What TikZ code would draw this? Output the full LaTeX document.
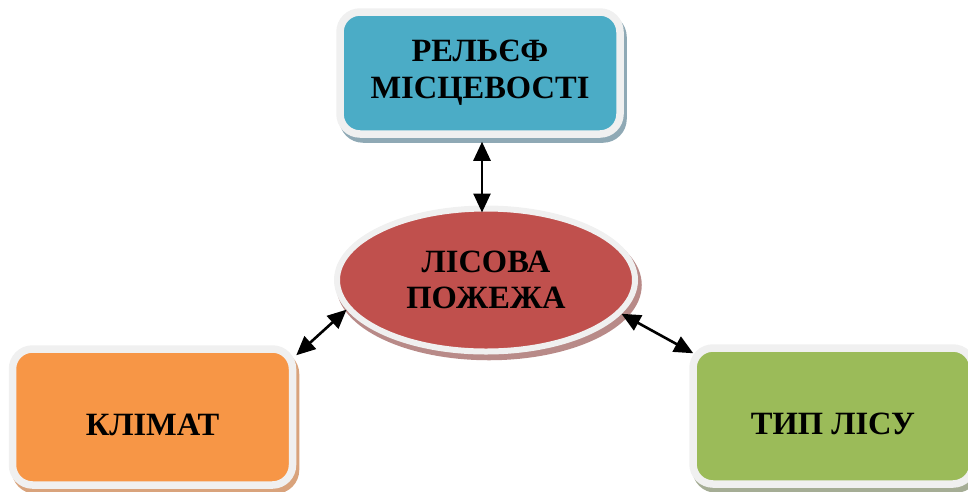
\documentclass[tikz,border=0pt]{standalone}
\usepackage{fontspec}
\setmainfont{Liberation Serif}
\usetikzlibrary{shapes.geometric,arrows.meta,calc}
\definecolor{aquafill}{HTML}{4BACC6}
\definecolor{redfill}{HTML}{C0504D}
\definecolor{orangefill}{HTML}{F79646}
\definecolor{greenfill}{HTML}{9BBB59}
\definecolor{rimgray}{HTML}{F0F0F0}
\definecolor{shblue}{HTML}{8FA9B5}
\definecolor{shred}{HTML}{B88A88}
\definecolor{shorange}{HTML}{D9A37C}
\definecolor{shgreen}{HTML}{A5AD95}
\begin{document}
\begin{tikzpicture}[x=1pt,y=-1pt,
  shad/.style={preaction={draw=#1, fill=#1, line width=7.5pt, transform canvas={shift={(3pt,-5pt)}}}},
  box/.style={rectangle, rounded corners=20pt, draw=rimgray, line width=7.5pt,
    minimum width=280pt, minimum height=122pt, align=center, inner sep=0pt,
    font=\bfseries\fontsize{32.5}{37}\selectfont, text=black},
  lowbox/.style={box, minimum height=136pt, text height=36pt, text depth=0pt},
  oval/.style={ellipse, draw=rimgray, line width=6pt, minimum width=298pt,
    minimum height=143pt, align=center, inner sep=0pt,
    font=\bfseries\fontsize{32.5}{36}\selectfont, text=black},
  arr/.style={{Triangle[length=19pt,width=17pt]}-{Triangle[length=19pt,width=17pt]}, line width=2.6pt, black}]
\useasboundingbox (0,0) rectangle (968,491);
\node[box, fill=aquafill, shad=shblue] (relief) at (480,73) {РЕЛЬЄФ\\МІСЦЕВОСТІ};
\node[oval, fill=redfill, shad=shred] (fire) at (486,280) {ЛІСОВА\\ПОЖЕЖА};
\node[lowbox, fill=orangefill, shad=shorange] (climate) at (152.5,417) {КЛІМАТ};
\node[lowbox, fill=greenfill, shad=shgreen] (forest) at (833,416) {ТИП ЛІСУ};
\draw[arr] ($(relief.south)+(2,4)$) -- ($(fire.north)+(-4,7)$);
\draw[arr] ($(climate.north east)+(0,10)$) -- (fire.192);
\draw[arr] (fire.346) -- ($(forest.north west)+(4,9)$);
\end{tikzpicture}
\end{document}
